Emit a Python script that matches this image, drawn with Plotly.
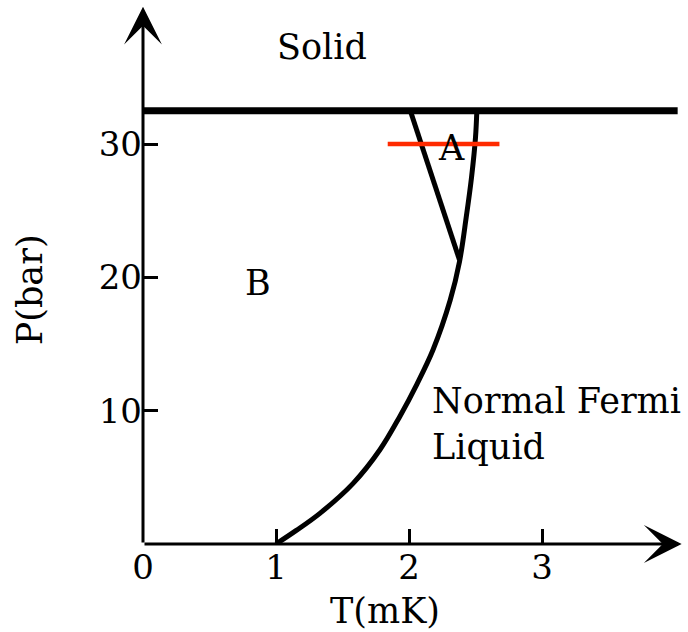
import plotly.graph_objects as go

# Phase diagram of liquid 3He (temperature in mK, pressure in bar)
# A-B / A-normal boundary (lower curve joining the upper right branch)
T_boundary = [1.00, 1.15, 1.33, 1.58, 1.78, 1.93, 2.06, 2.18, 2.31, 2.38, 2.43, 2.47, 2.50, 2.51]
P_boundary = [0.0, 1.0, 2.3, 4.55, 7.05, 9.55, 12.0, 14.55, 18.3, 21.2, 24.5, 27.5, 30.5, 32.5]

# A-B transition line above the polycritical point
T_ab = [2.01, 2.38]
P_ab = [32.5, 21.3]

# Melting (solid) line
T_melt = [0.0, 4.02]
P_melt = [32.5, 32.5]

# Constant-pressure sweep at 30 bar
T_sweep = [1.84, 2.68]
P_sweep = [30.0, 30.0]

x_ticks = [0, 1, 2, 3]
y_ticks = [10, 20, 30]

# Axis extents (arrow tips)
T_MAX = 4.05
P_MAX = 40.3

FONT = "DejaVu Serif"

fig = go.Figure()

fig.add_trace(go.Scatter(x=T_melt, y=P_melt, mode="lines",
                         line=dict(color="black", width=7), hoverinfo="skip"))
fig.add_trace(go.Scatter(x=T_boundary, y=P_boundary, mode="lines",
                         line=dict(color="black", width=5, shape="spline", smoothing=1.0),
                         hoverinfo="skip"))
fig.add_trace(go.Scatter(x=T_ab, y=P_ab, mode="lines",
                         line=dict(color="black", width=5), hoverinfo="skip"))
fig.add_trace(go.Scatter(x=T_sweep, y=P_sweep, mode="lines",
                         line=dict(color="#ff2a00", width=4.5), hoverinfo="skip"))

annotations = [
    # axes drawn as arrows
    dict(x=T_MAX, y=0, ax=0, ay=0, xref="x", yref="y", axref="x", ayref="y",
         text="", showarrow=True, arrowhead=3, arrowsize=2.1, arrowwidth=3,
         arrowcolor="black"),
    dict(x=0, y=P_MAX, ax=0, ay=0, xref="x", yref="y", axref="x", ayref="y",
         text="", showarrow=True, arrowhead=3, arrowsize=2.1, arrowwidth=3,
         arrowcolor="black"),
    # region labels
    dict(x=1.346, y=37.3, text="Solid", showarrow=False, font=dict(size=35)),
    dict(x=2.316, y=29.7, text="A", showarrow=False, font=dict(size=35)),
    dict(x=0.861, y=19.6, text="B", showarrow=False, font=dict(size=35)),
    dict(x=2.158, y=12.4, text="Normal Fermi<br>Liquid", showarrow=False,
         xanchor="left", yanchor="top", align="left", font=dict(size=35)),
    # axis titles
    dict(x=-0.209, y=0.471, xref="paper", yref="paper", text="P(bar)",
         xanchor="center", yanchor="middle",
         textangle=-90, showarrow=False, font=dict(size=35)),
    dict(x=0.448, y=-0.124, xref="paper", yref="paper", text="T(mK)",
         xanchor="center", yanchor="middle",
         showarrow=False, font=dict(size=35)),
]

fig.update_layout(
    width=688, height=632, autosize=False,
    margin=dict(l=143, r=5, t=5, b=88),
    paper_bgcolor="white", plot_bgcolor="white",
    showlegend=False,
    font=dict(family=FONT, color="black"),
    annotations=annotations,
)
fig.update_xaxes(range=[0, (683 - 143) / 133], tickvals=x_ticks,
                 ticktext=[str(v) for v in x_ticks],
                 ticks="inside", ticklen=15, tickwidth=3, tickcolor="black",
                 showgrid=False, zeroline=False, showline=False,
                 tickfont=dict(size=34, family=FONT), fixedrange=True)
fig.update_yaxes(range=[0, 539 / 13.33], tickvals=y_ticks,
                 ticktext=[str(v) for v in y_ticks],
                 ticks="inside", ticklen=15, tickwidth=3, tickcolor="black",
                 showgrid=False, zeroline=False, showline=False,
                 tickfont=dict(size=34, family=FONT), fixedrange=True)

fig.write_html("out.html")
